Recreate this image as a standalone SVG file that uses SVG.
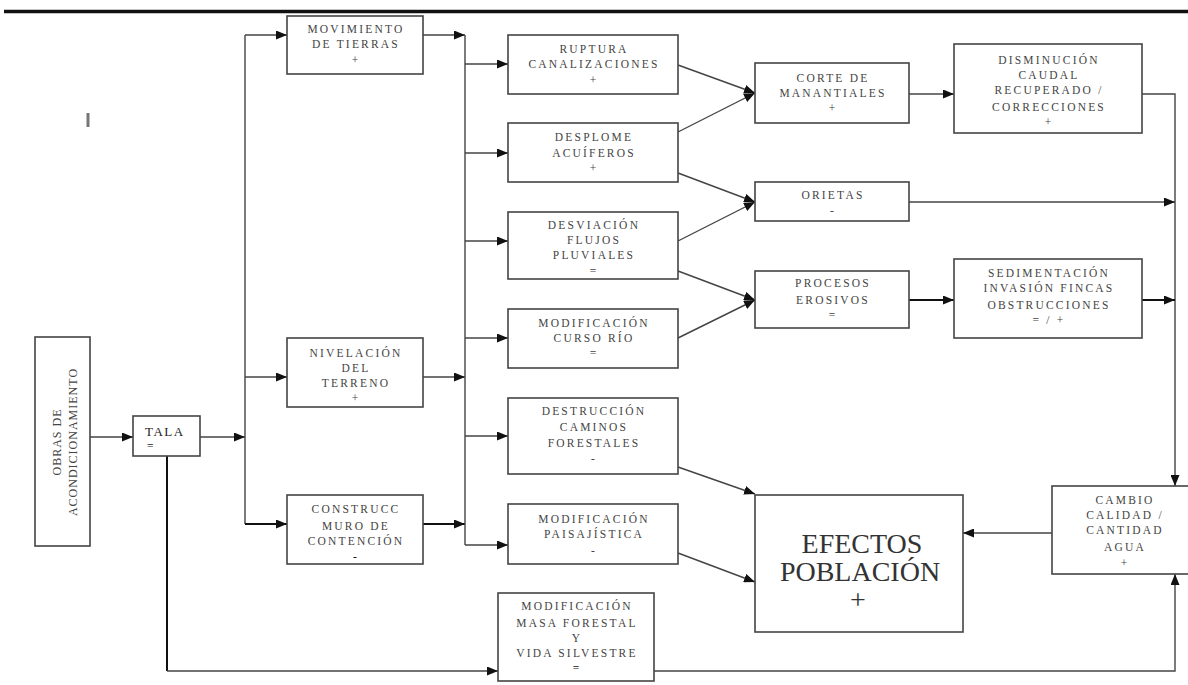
<svg xmlns="http://www.w3.org/2000/svg" width="1188" height="685" viewBox="0 0 1188 685">
  <style>
    .box { fill: #fff; stroke: #444; stroke-width: 1.6; }
    .t { font-family: "Liberation Serif", "DejaVu Serif", serif; font-size: 11.5px; letter-spacing: 2.2px; fill: #444; text-anchor: middle; }
    .big { font-family: "Liberation Serif", "DejaVu Serif", serif; font-size: 28px; fill: #333; text-anchor: middle; }
    .ln { fill: none; stroke: #444; stroke-width: 1.4; }
    .dark { stroke: #111; stroke-width: 2; }
    .arr { marker-end: url(#ah); }
  </style>
  <defs>
    <marker id="ah" markerWidth="11" markerHeight="9" refX="11" refY="4.5" orient="auto" markerUnits="userSpaceOnUse">
      <path d="M0,0 L11,4.5 L0,9 z" fill="#111"/>
    </marker>
  </defs>

  <rect width="1188" height="685" fill="#fff"/>
  <!-- page rule -->
  <line x1="4" y1="11.5" x2="1188" y2="11.5" stroke="#111" stroke-width="3.5"/>
  <rect x="86.5" y="113" width="3" height="14" fill="#777"/>

  <!-- connectors -->
  <g id="connectors">
    <path class="ln arr" d="M90,437 H133"/>
    <path class="ln arr" d="M200,437 H245"/>
    <path class="ln" d="M245,35 V524"/>
    <path class="ln arr" d="M245,35 H287"/>
    <path class="ln arr" d="M245,377 H287"/>
    <path class="ln dark arr" d="M245,524 H287"/>
    <path class="ln arr" d="M423,35 H465"/>
    <path class="ln arr" d="M423,377 H465"/>
    <path class="ln dark arr" d="M423,524 H465"/>
    <path class="ln" d="M465,35 V545"/>
    <path class="ln arr" d="M465,64 H508"/>
    <path class="ln arr" d="M465,153 H508"/>
    <path class="ln arr" d="M465,241 H508"/>
    <path class="ln arr" d="M465,338 H508"/>
    <path class="ln arr" d="M465,436 H508"/>
    <path class="ln arr" d="M465,545 H508"/>
    <path class="ln arr" d="M678,65 L755,93"/>
    <path class="ln arr" d="M678,132 L755,93"/>
    <path class="ln arr" d="M678,173 L755,202"/>
    <path class="ln arr" d="M678,241 L755,202"/>
    <path class="ln arr" d="M678,271 L755,300"/>
    <path class="ln arr" d="M678,338 L755,300"/>
    <path class="ln arr" d="M678,467 L755,494"/>
    <path class="ln arr" d="M678,553 L755,582"/>
    <path class="ln arr" d="M909,94 H954"/>
    <path class="ln arr" d="M1142,94 H1175 V486"/>
    <path class="ln arr" d="M909,202 H1175"/>
    <path class="ln dark arr" d="M909,300 H954"/>
    <path class="ln dark arr" d="M1142,300 H1175"/>
    <path class="ln arr" d="M1052,533 H963"/>
    <path class="ln dark" d="M167,456 V671"/>
    <path class="ln arr" d="M167,671 H498"/>
    <path class="ln arr" d="M654,671 H1175 V574"/>
  </g>

  <g id="obras">
    <rect class="box" x="35" y="337" width="55" height="209"/>
    <text class="t" style="letter-spacing:1px;font-size:12px" transform="translate(61,442) rotate(-90)">OBRAS DE</text>
    <text class="t" style="letter-spacing:1px;font-size:12px" transform="translate(77,442) rotate(-90)">ACONDICIONAMIENTO</text>
  </g>

  <g id="tala">
    <rect class="box" x="133" y="416" width="67" height="40"/>
    <text class="t" style="text-anchor:start;font-size:13px;letter-spacing:1.5px;fill:#222" x="145" y="436">TALA</text>
    <text class="t" style="text-anchor:start;fill:#222" x="147" y="450">=</text>
  </g>

  <g id="movimiento">
    <rect class="box" x="287" y="16" width="136" height="58"/>
    <text class="t" x="356" y="33">MOVIMIENTO</text>
    <text class="t" x="356" y="48">DE TIERRAS</text>
    <text class="t" x="356" y="64">+</text>
  </g>

  <g id="nivelacion">
    <rect class="box" x="287" y="338" width="136" height="69"/>
    <text class="t" x="356" y="357">NIVELACIÓN</text>
    <text class="t" x="356" y="372">DEL</text>
    <text class="t" x="356" y="387">TERRENO</text>
    <text class="t" x="356" y="402">+</text>
  </g>

  <g id="construcc">
    <rect class="box" x="287" y="495" width="136" height="69"/>
    <text class="t" x="356" y="513">CONSTRUCC</text>
    <text class="t" x="356" y="530">MURO DE</text>
    <text class="t" x="356" y="545">CONTENCIÓN</text>
    <text class="t" x="356" y="560" style="fill:#111">-</text>
  </g>

  <g id="ruptura">
    <rect class="box" x="508" y="35" width="170" height="59"/>
    <text class="t" x="594" y="53">RUPTURA</text>
    <text class="t" x="594" y="68">CANALIZACIONES</text>
    <text class="t" x="594" y="84">+</text>
  </g>

  <g id="desplome">
    <rect class="box" x="508" y="123" width="170" height="59"/>
    <text class="t" x="594" y="141">DESPLOME</text>
    <text class="t" x="594" y="157">ACUÍFEROS</text>
    <text class="t" x="594" y="172">+</text>
  </g>

  <g id="desviacion">
    <rect class="box" x="508" y="212" width="170" height="67"/>
    <text class="t" x="594" y="229">DESVIACIÓN</text>
    <text class="t" x="594" y="244">FLUJOS</text>
    <text class="t" x="594" y="259">PLUVIALES</text>
    <text class="t" x="594" y="275">=</text>
  </g>

  <g id="curso-rio">
    <rect class="box" x="508" y="309" width="170" height="59"/>
    <text class="t" x="594" y="327">MODIFICACIÓN</text>
    <text class="t" x="594" y="342">CURSO RÍO</text>
    <text class="t" x="594" y="357">=</text>
  </g>

  <g id="destruccion">
    <rect class="box" x="508" y="398" width="170" height="76"/>
    <text class="t" x="594" y="415">DESTRUCCIÓN</text>
    <text class="t" x="594" y="431">CAMINOS</text>
    <text class="t" x="594" y="447">FORESTALES</text>
    <text class="t" x="594" y="462">-</text>
  </g>

  <g id="paisajistica">
    <rect class="box" x="508" y="504" width="170" height="60"/>
    <text class="t" x="594" y="523">MODIFICACIÓN</text>
    <text class="t" x="594" y="538">PAISAJÍSTICA</text>
    <text class="t" x="594" y="554">-</text>
  </g>

  <g id="masa-forestal">
    <rect class="box" x="498" y="593" width="156" height="88"/>
    <text class="t" x="577" y="610">MODIFICACIÓN</text>
    <text class="t" x="577" y="627">MASA FORESTAL</text>
    <text class="t" x="577" y="642">Y</text>
    <text class="t" x="577" y="657">VIDA SILVESTRE</text>
    <text class="t" x="577" y="672" style="fill:#111">=</text>
  </g>

  <g id="corte">
    <rect class="box" x="755" y="63" width="154" height="60"/>
    <text class="t" x="833" y="82">CORTE DE</text>
    <text class="t" x="833" y="97">MANANTIALES</text>
    <text class="t" x="833" y="112">+</text>
  </g>

  <g id="grietas">
    <rect class="box" x="755" y="182" width="154" height="39"/>
    <text class="t" x="833" y="199">ORIETAS</text>
    <text class="t" x="833" y="214">-</text>
  </g>

  <g id="procesos">
    <rect class="box" x="755" y="271" width="154" height="57"/>
    <text class="t" x="833" y="287">PROCESOS</text>
    <text class="t" x="833" y="304">EROSIVOS</text>
    <text class="t" x="833" y="319">=</text>
  </g>

  <g id="disminucion">
    <rect class="box" x="954" y="44" width="188" height="89"/>
    <text class="t" x="1049" y="64">DISMINUCIÓN</text>
    <text class="t" x="1049" y="79">CAUDAL</text>
    <text class="t" x="1049" y="94">RECUPERADO /</text>
    <text class="t" x="1049" y="111">CORRECCIONES</text>
    <text class="t" x="1049" y="126">+</text>
  </g>

  <g id="sedimentacion">
    <rect class="box" x="954" y="259" width="188" height="79"/>
    <text class="t" x="1049" y="277">SEDIMENTACIÓN</text>
    <text class="t" x="1049" y="292">INVASIÓN FINCAS</text>
    <text class="t" x="1049" y="309">OBSTRUCCIONES</text>
    <text class="t" x="1049" y="324">= / +</text>
  </g>

  <g id="cambio">
    <rect class="box" x="1052" y="486" width="146" height="88"/>
    <text class="t" x="1125" y="504">CAMBIO</text>
    <text class="t" x="1125" y="519">CALIDAD /</text>
    <text class="t" x="1125" y="534">CANTIDAD</text>
    <text class="t" x="1125" y="551">AGUA</text>
    <text class="t" x="1125" y="567">+</text>
  </g>

  <g id="efectos">
    <rect class="box" x="755" y="495" width="208" height="137"/>
    <text class="big" x="862" y="553">EFECTOS</text>
    <text class="big" x="860" y="581">POBLACIÓN</text>
    <text class="big" x="858" y="609">+</text>
  </g>
</svg>
